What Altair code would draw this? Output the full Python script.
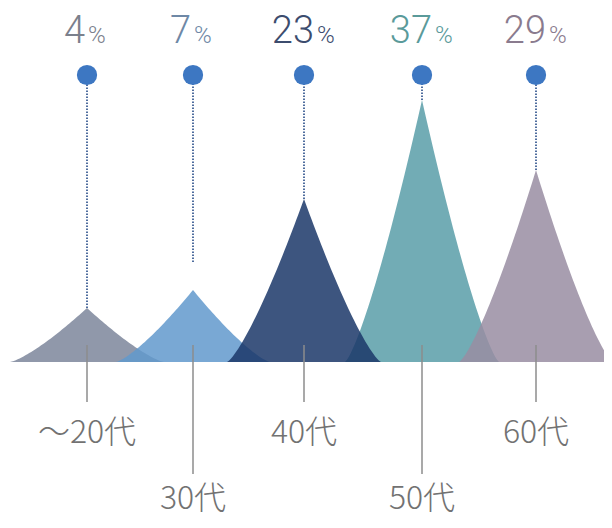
import altair as alt
import pandas as pd
import numpy as np

# ---- data ----
ages = ["〜20代", "30代", "40代", "50代", "60代"]
shares = [4, 7, 23, 37, 29]
centers = [87, 193, 304, 422, 536]          # horizontal position of each peak
peak_heights = [54, 72, 163, 262, 192]      # height of each peak above the baseline
stem_ends = [54, 100, 163, 262, 192]        # where the dotted stem stops
fill_colors = ["#7c869b", "#6299cd", "#1b3769", "#599ea8", "#998da2"]
text_colors = ["#7b808c", "#6e88a6", "#3c4c6e", "#5a9a9a", "#8a7b8e"]
draw_order = [0, 1, 3, 4, 2]

# ---- layout constants ----
HALF_W = 77
DOT_LEVEL = 287
PCT_BASE = 319
TICK_TOP = 17
tick_ends = [-40, -112, -40, -112, -40]
label_levels = [-71, -137, -71, -137, -71]

W, H = 596, 512
xs = alt.Scale(domain=[8, 604])
ys = alt.Scale(domain=[-158, 354])

info = pd.DataFrame({
    "age": ages, "share": shares, "cx": centers, "peak": peak_heights,
    "stem": stem_ends, "tick_end": tick_ends, "label_y": label_levels,
    "tcolor": text_colors,
})
info["num"] = info["share"].astype(str)
info["dot"] = DOT_LEVEL
info["pct_y"] = PCT_BASE
info["tick_top"] = TICK_TOP
info["num_x"] = [c + (-2 if len(n) == 1 else 10) for c, n in zip(info["cx"], info["num"])]
info["pct_x"] = info["num_x"] + 3
info["pct_sign"] = "%"

layers = []
ts = np.linspace(-1, 1, 81)
for i in draw_order:
    shape = pd.DataFrame({
        "x": centers[i] + ts * HALF_W,
        "y": peak_heights[i] * (1 - np.abs(ts)) ** 1.3,
        "y0": 0.0,
    })
    layers.append(
        alt.Chart(shape).mark_area(color=fill_colors[i], opacity=0.85, interpolate="linear")
        .encode(x=alt.X("x:Q", scale=xs, axis=None),
                y=alt.Y("y:Q", scale=ys, axis=None),
                y2="y0:Q")
    )

base = alt.Chart(info)

ticks = base.mark_rule(color="#8c8c8c", strokeWidth=1.5).encode(
    x=alt.X("cx:Q", scale=xs, axis=None),
    y=alt.Y("tick_top:Q", scale=ys, axis=None),
    y2="tick_end:Q",
)

stems = base.mark_rule(color="#4f6d9e", strokeWidth=2, strokeDash=[1.5, 1.5]).encode(
    x=alt.X("cx:Q", scale=xs, axis=None),
    y=alt.Y("stem:Q", scale=ys, axis=None),
    y2="dot:Q",
)

dots = base.mark_circle(size=410, color="#3d77c2", opacity=1).encode(
    x=alt.X("cx:Q", scale=xs, axis=None),
    y=alt.Y("dot:Q", scale=ys, axis=None),
)

nums = base.mark_text(align="right", baseline="alphabetic", fontSize=38,
                      font="Roboto", fontWeight=300).encode(
    x=alt.X("num_x:Q", scale=xs, axis=None),
    y=alt.Y("pct_y:Q", scale=ys, axis=None),
    text="num:N",
    color=alt.Color("tcolor:N", scale=None),
)

pcts = base.mark_text(align="left", baseline="alphabetic", fontSize=24,
                      font="Roboto", fontWeight=300).encode(
    x=alt.X("pct_x:Q", scale=xs, axis=None),
    y=alt.Y("pct_y:Q", scale=ys, axis=None),
    text="pct_sign:N",
    color=alt.Color("tcolor:N", scale=None),
)

labels = base.mark_text(align="center", baseline="middle", fontSize=32,
                        font="Noto Sans CJK JP", fontWeight=300, color="#727272").encode(
    x=alt.X("cx:Q", scale=xs, axis=None),
    y=alt.Y("label_y:Q", scale=ys, axis=None),
    text="age:N",
)

chart = alt.layer(*layers, ticks, stems, dots, nums, pcts, labels).properties(
    width=W, height=H, padding=0, autosize="none"
).configure_view(stroke=None)

chart.save("out.html", embed_options={"renderer": "svg", "actions": False})
